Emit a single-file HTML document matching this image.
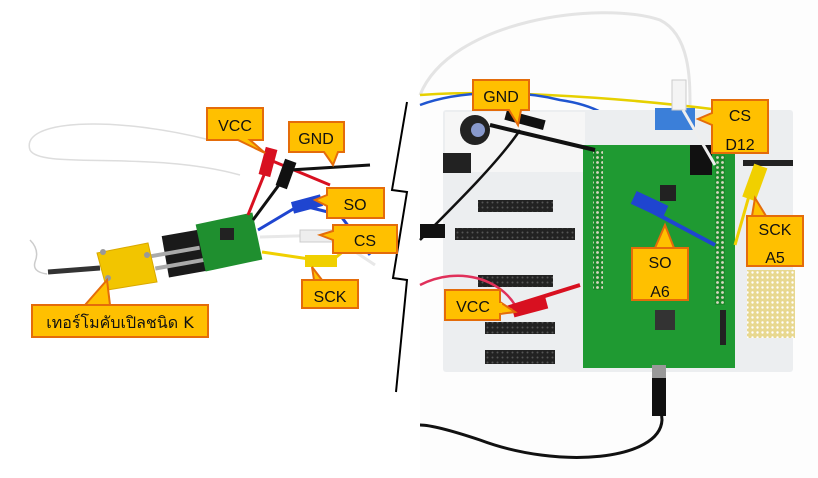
<!DOCTYPE html>
<html><head><meta charset="utf-8"><style>
html,body{margin:0;padding:0;background:#fff;width:818px;height:478px;overflow:hidden}
text{font-family:"Liberation Sans","DejaVu Sans",sans-serif;font-size:16px;fill:#111}
</style></head><body>
<svg width="818" height="478" viewBox="0 0 818 478" xmlns="http://www.w3.org/2000/svg">
<defs>
<pattern id="pins" width="5" height="5" patternUnits="userSpaceOnUse"><rect width="5" height="5" fill="#1a8a2a"/><circle cx="2.5" cy="2.5" r="1.4" fill="#d8d8c0"/></pattern>
<pattern id="hdr" width="5" height="5" patternUnits="userSpaceOnUse"><rect width="5" height="5" fill="#222"/><circle cx="2.5" cy="2.5" r="1" fill="#555"/></pattern>
<pattern id="proto" width="5" height="5" patternUnits="userSpaceOnUse"><rect width="5" height="5" fill="#e8d890"/><circle cx="2.5" cy="2.5" r="1.2" fill="#fff"/></pattern>
</defs>
<rect x="420" y="0" width="398" height="478" fill="#fdfdfd"/>
<!-- LEFT PHOTO -->
<path d="M30 240 q10 10 5 22 q-3 10 12 12" stroke="#ccc" fill="none" stroke-width="1.5"/>
<path d="M240 175 C150 150 40 170 30 150 C20 120 110 115 210 140" stroke="#ddd" fill="none" stroke-width="1.5"/>
<path d="M48 272 L100 268" stroke="#333" stroke-width="5"/>
<rect x="165" y="232" width="45" height="42" fill="#1a1a1a" transform="rotate(-10 187 253)"/>
<rect x="150" y="250" width="50" height="4" fill="#aaa" transform="rotate(-10 175 252)"/>
<rect x="155" y="263" width="50" height="4" fill="#aaa" transform="rotate(-10 175 265)"/>
<rect x="200" y="218" width="58" height="48" fill="#1f8f2f" transform="rotate(-12 229 242)"/>
<rect x="220" y="228" width="14" height="12" fill="#222"/>
<polygon points="97,253 148,243 157,282 107,290" fill="#f2c500" stroke="#d9a800"/>
<circle cx="103" cy="252" r="3" fill="#999"/><circle cx="147" cy="255" r="3" fill="#999"/><circle cx="108" cy="278" r="3" fill="#999"/>
<g stroke-width="3" fill="none">
<path d="M248 215 L270 160 L330 185" stroke="#d81020"/>
<path d="M253 220 L290 170 L370 165" stroke="#111"/>
<path d="M258 230 L300 205 L340 215 L370 255" stroke="#1f45d0"/>
<path d="M260 237 L330 235 L375 265" stroke="#e8e8e8"/>
<path d="M262 252 L330 262 L345 250 L375 225" stroke="#f0d000"/>
</g>
<rect x="262" y="148" width="12" height="28" fill="#d81020" transform="rotate(15 268 162)"/>
<rect x="280" y="160" width="12" height="28" fill="#111" transform="rotate(20 286 174)"/>
<rect x="292" y="198" width="30" height="12" fill="#1f45d0" transform="rotate(-15 307 204)"/>
<rect x="300" y="230" width="32" height="12" fill="#eee" stroke="#ccc"/>
<rect x="305" y="255" width="32" height="12" fill="#f0d000"/>
<!-- zigzag -->
<polyline points="407,102 392,190 407,192 393,278 407,280 396,392" stroke="#000" stroke-width="2" fill="none"/>
<!-- RIGHT PHOTO -->
<path d="M420 95 C450 20 600 0 660 20 C690 35 690 80 690 105" stroke="#e4e4e4" stroke-width="3" fill="none"/>
<path d="M420 95 C480 90 600 95 720 110 L760 180" stroke="#e6d000" stroke-width="2.5" fill="none"/>
<path d="M420 105 C460 90 520 90 560 100 C630 110 640 150 650 200" stroke="#1f55d0" stroke-width="2.5" fill="none"/>
<rect x="443" y="110" width="350" height="262" rx="3" fill="#eceef0"/>
<rect x="445" y="112" width="140" height="60" fill="#f6f6f6"/>
<circle cx="475" cy="130" r="15" fill="#222"/><circle cx="478" cy="130" r="7" fill="#8899cc"/>
<rect x="443" y="153" width="28" height="20" fill="#222"/>
<rect x="478" y="200" width="75" height="12" fill="url(#hdr)"/>
<rect x="455" y="228" width="120" height="12" fill="url(#hdr)"/>
<rect x="478" y="275" width="75" height="12" fill="url(#hdr)"/>
<rect x="485" y="322" width="70" height="12" fill="url(#hdr)"/>
<rect x="485" y="350" width="70" height="14" fill="url(#hdr)"/>
<rect x="655" y="108" width="40" height="22" fill="#3b7fd9"/>
<rect x="743" y="160" width="50" height="6" fill="#222"/>
<rect x="747" y="270" width="48" height="68" fill="url(#proto)"/>
<rect x="583" y="145" width="152" height="223" fill="#1f9a32"/>
<rect x="593" y="150" width="10" height="140" fill="url(#pins)"/>
<rect x="715" y="155" width="10" height="150" fill="url(#pins)"/>
<rect x="660" y="185" width="16" height="16" fill="#222"/>
<rect x="655" y="310" width="20" height="20" fill="#333"/>
<rect x="690" y="145" width="22" height="30" fill="#111"/>
<rect x="720" y="310" width="6" height="35" fill="#222"/>
<!-- cables on board -->
<path d="M420 240 C460 200 500 160 520 130" stroke="#111" stroke-width="2.5" fill="none"/>
<rect x="420" y="224" width="25" height="14" fill="#111"/>
<path d="M420 285 C460 265 500 280 515 305" stroke="#e0305a" stroke-width="2.5" fill="none"/>
<path d="M490 125 L595 150" stroke="#111" stroke-width="4"/>
<rect x="505" y="115" width="40" height="10" fill="#111" transform="rotate(15 525 120)"/>
<path d="M500 310 L580 285" stroke="#d81020" stroke-width="4"/>
<rect x="512" y="300" width="35" height="13" fill="#d81020" transform="rotate(-15 530 306)"/>
<path d="M640 205 L715 245" stroke="#1f45d0" stroke-width="4"/>
<rect x="632" y="198" width="35" height="14" fill="#1f45d0" transform="rotate(25 650 205)"/>
<path d="M755 175 L735 245" stroke="#f0d000" stroke-width="3"/>
<rect x="748" y="165" width="14" height="35" fill="#f0d000" transform="rotate(20 755 182)"/>
<rect x="672" y="80" width="14" height="30" fill="#f4f4f4" stroke="#ccc"/>
<path d="M683 110 L715 165" stroke="#eee" stroke-width="3"/>
<rect x="652" y="365" width="14" height="30" fill="#999"/>
<path d="M659 380 L662 420 C660 460 560 470 480 440 C450 430 430 425 420 425" stroke="#111" stroke-width="3" fill="none"/>
<rect x="652" y="378" width="14" height="38" fill="#111"/>
<!-- CALLOUTS -->
<g fill="#ffc000" stroke="#e46c0a" stroke-width="2" stroke-linejoin="miter">
<path d="M207 108 H263 V140 H250 L265 153 L238 140 H207 Z"/>
<path d="M289 122 H344 V152 H338 L333 165 L324 152 H289 Z"/>
<path d="M327 188 H384 V218 H327 V206 L315 200 L327 195 Z"/>
<path d="M333 225 H397 V253 H333 V240 L320 235 L333 231 Z"/>
<path d="M302 280 H358 V308 H302 Z M314 280 L312 267 L322 280"/>
<path d="M32 305 H208 V337 H32 Z M85 305 L107 280 L110 305"/>
<path d="M473 80 H529 V110 H521 L518 125 L509 110 H473 Z"/>
<path d="M712 100 H768 V153 H712 V125 L698 119 L712 113 Z"/>
<path d="M747 216 H803 V266 H747 Z M752 216 L755 198 L766 216"/>
<path d="M632 248 H688 V300 H632 Z M655 248 L665 225 L674 248"/>
<path d="M445 290 H500 V320 H445 Z M500 302 L515 312 L500 314"/>
</g>
<g fill="#ffc000">
<rect x="303" y="281" width="54" height="4"/>
<rect x="33" y="306" width="174" height="4"/>
<rect x="748" y="217" width="54" height="4"/>
<rect x="633" y="249" width="54" height="4"/>
<rect x="498" y="303" width="4" height="10"/>
</g>
<text x="235" y="131" text-anchor="middle">VCC</text>
<text x="316" y="144" text-anchor="middle">GND</text>
<text x="355" y="210" text-anchor="middle">SO</text>
<text x="365" y="246" text-anchor="middle">CS</text>
<text x="330" y="302" text-anchor="middle">SCK</text>
<text x="120" y="328" text-anchor="middle" style="font-family:'DejaVu Sans','Liberation Sans',sans-serif">เทอร์โมคับเปิลชนิด K</text>
<text x="501" y="102" text-anchor="middle">GND</text>
<text x="740" y="121" text-anchor="middle">CS</text>
<text x="740" y="150" text-anchor="middle">D12</text>
<text x="775" y="235" text-anchor="middle">SCK</text>
<text x="775" y="263" text-anchor="middle">A5</text>
<text x="660" y="268" text-anchor="middle">SO</text>
<text x="660" y="297" text-anchor="middle">A6</text>
<text x="473" y="312" text-anchor="middle">VCC</text>
</svg>
</body></html>
